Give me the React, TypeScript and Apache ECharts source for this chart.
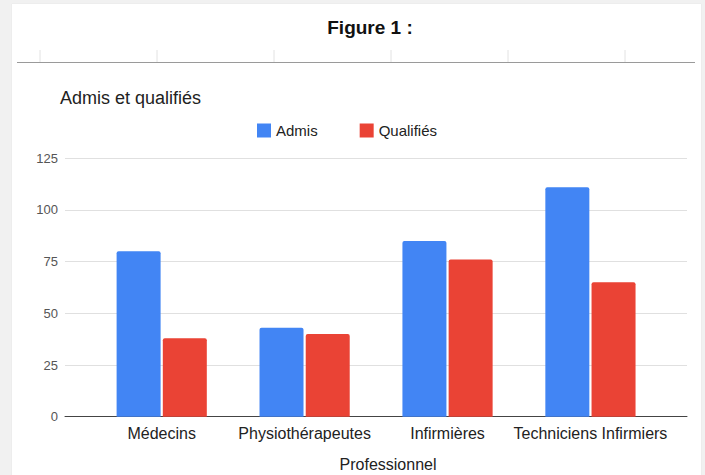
import React, { useEffect, useRef } from "react";
import * as echarts from "echarts";

const categories = ["Médecins", "Physiothérapeutes", "Infirmières", "Techniciens Infirmiers"];
const admis = [80, 43, 85, 111];
const qualifies = [38, 40, 76, 65];
const yTicks = { min: 0, max: 125, interval: 25 };
const figureTitle = "Figure 1 :";
const chartTitle = "Admis et qualifiés";
const xAxisTitle = "Professionnel";
const seriesNames = ["Admis", "Qualifiés"];
const headerTickXs = [40, 157, 274, 391, 508, 625];

const FONT = "'Liberation Sans', Arial, sans-serif";

export default function App() {
  const ref = useRef<HTMLDivElement>(null);

  useEffect(() => {
    if (!ref.current) return;
    const chart = echarts.init(ref.current, undefined, { renderer: "svg" });

    const headerTicks = headerTickXs.map((x) => ({
      type: "line",
      shape: { x1: x, y1: 50, x2: x, y2: 62 },
      style: { stroke: "#e2e2e2", lineWidth: 1 },
      silent: true,
    }));

    chart.setOption({
      animation: false,
      textStyle: { fontFamily: FONT },
      title: {
        text: chartTitle,
        left: 60,
        top: 89,
        padding: 0,
        textStyle: { fontSize: 18, fontWeight: "normal", color: "#222", fontFamily: FONT },
      },
      legend: {
        left: 257,
        top: 123,
        itemWidth: 14,
        itemHeight: 14,
        itemGap: 42,
        icon: "rect",
        padding: 0,
        data: seriesNames,
        textStyle: { fontSize: 15, color: "#222", fontFamily: FONT },
      },
      graphic: [
        {
          type: "text",
          x: 370,
          y: 27,
          style: {
            text: figureTitle,
            font: `bold 19px ${FONT}`,
            fill: "#111",
            textAlign: "center",
            textVerticalAlign: "middle",
          },
        },
        ...headerTicks,
        {
          type: "line",
          shape: { x1: 17, y1: 62.5, x2: 695, y2: 62.5 },
          style: { stroke: "#9a9a9a", lineWidth: 1.2 },
          silent: true,
        },
        {
          type: "text",
          x: 388,
          y: 464,
          style: {
            text: xAxisTitle,
            font: `16px ${FONT}`,
            fill: "#222",
            textAlign: "center",
            textVerticalAlign: "middle",
          },
        },
      ],
      grid: [
        { left: 65, right: 18, top: 158.3, bottom: 58.3 },
        { left: 90.25, right: 43.1, top: 158.3, bottom: 58.3 },
      ],
      xAxis: [
        {
          gridIndex: 0,
          type: "category",
          data: categories,
          axisLabel: { show: false },
          axisTick: { show: false },
          axisLine: { show: true, lineStyle: { color: "#444", width: 1 } },
          splitLine: { show: false },
        },
        {
          gridIndex: 1,
          type: "category",
          data: categories,
          axisTick: { show: false },
          axisLine: { show: false },
          axisLabel: { margin: 9, fontSize: 16, color: "#222", fontFamily: FONT, interval: 0 },
        },
      ],
      yAxis: [
        {
          gridIndex: 0,
          type: "value",
          min: yTicks.min,
          max: yTicks.max,
          interval: yTicks.interval,
          axisLine: { show: false },
          axisTick: { show: false },
          axisLabel: { margin: 7, fontSize: 13, color: "#555", fontFamily: FONT },
          splitLine: { show: true, lineStyle: { color: "#e0e0e0", width: 1 } },
        },
        {
          gridIndex: 1,
          type: "value",
          min: yTicks.min,
          max: yTicks.max,
          interval: yTicks.interval,
          show: false,
          splitLine: { show: false },
        },
      ],
      series: [
        {
          name: seriesNames[0],
          type: "bar",
          xAxisIndex: 1,
          yAxisIndex: 1,
          data: admis,
          barWidth: 44,
          barGap: "5%",
          itemStyle: { color: "#4285F4", borderRadius: [2, 2, 0, 0] },
        },
        {
          name: seriesNames[1],
          type: "bar",
          xAxisIndex: 1,
          yAxisIndex: 1,
          data: qualifies,
          barWidth: 44,
          barGap: "5%",
          itemStyle: { color: "#EA4335", borderRadius: [2, 2, 0, 0] },
        },
      ],
    });

    return () => {
      chart.dispose();
    };
  }, []);

  return (
    <div
      style={{
        position: "fixed",
        left: 0,
        top: 0,
        width: 705,
        height: 475,
        background: "#f1f1f1",
        overflow: "hidden",
      }}
    >
      <div
        style={{
          position: "absolute",
          left: 12,
          top: 4,
          width: 689,
          height: 480,
          background: "#ffffff",
          boxShadow: "0 0 1px #d8d8d8",
        }}
      />
      <div ref={ref} style={{ position: "absolute", left: 0, top: 0, width: 705, height: 475 }} />
    </div>
  );
}
